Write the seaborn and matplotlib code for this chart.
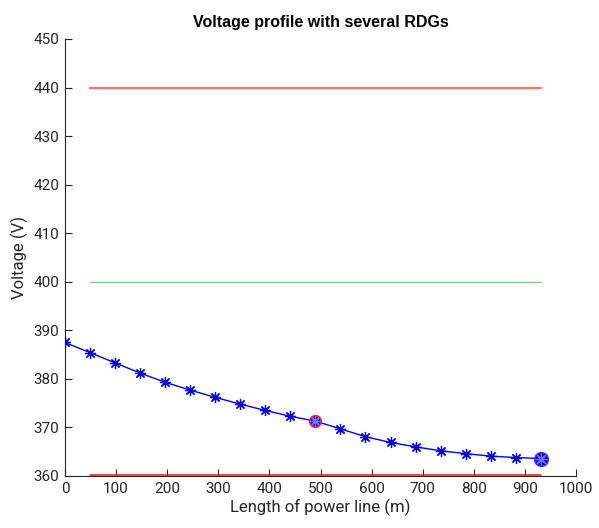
import numpy as np
import pandas as pd
import matplotlib
matplotlib.use("Agg")
import matplotlib.pyplot as plt
import seaborn as sns

# Data
distance_m = [0, 49, 98, 147, 196, 245, 294, 343, 392, 441, 490, 539, 588, 637, 686, 735, 784, 833, 882, 931]
voltage_v = [387.5, 385.4, 383.3, 381.2, 379.3, 377.7, 376.2, 374.8, 373.5, 372.3, 371.3, 369.7, 368.1, 366.9, 366.0, 365.2, 364.6, 364.1, 363.8, 363.6]
rdg_index = [10, 19]
upper_limit = 440
nominal = 400
lower_limit = 360
limit_start = 49
limit_end = 931
x_ticks = [0, 100, 200, 300, 400, 500, 600, 700, 800, 900, 1000]
y_ticks = [360, 370, 380, 390, 400, 410, 420, 430, 440, 450]

sns.set_theme(style="white")
plt.rcParams['font.family'] = ['Roboto', 'DejaVu Sans']

df = pd.DataFrame({"x": distance_m, "v": voltage_v})

fig = plt.figure(figsize=(5.99, 5.28), dpi=100)
ax = fig.add_axes([65/599, 1 - 476/528, (576-65)/599, (476-39)/528])

ax.plot([limit_start, limit_end], [upper_limit, upper_limit], color="#ff7070", lw=1.6, zorder=1)
ax.plot([limit_start, limit_end], [nominal, nominal], color="#55aa55", lw=1.0, alpha=0.7, zorder=1)
ax.plot([limit_start, limit_end], [lower_limit + 0.25, lower_limit + 0.25], color="#ee1111", lw=1.1,
        zorder=3, clip_on=False)

sns.lineplot(data=df, x="x", y="v", ax=ax, color="#0000ff", lw=1.0, marker=(8, 2, 0),
             markersize=8, markeredgewidth=0.9, markeredgecolor="#0000ff", zorder=3)

r1 = df.iloc[[rdg_index[0]]]
ax.scatter(r1["x"], r1["v"], s=70, facecolor="#0000ff", edgecolor="#ff2020", linewidths=1.2, zorder=4)
ax.scatter(r1["x"], r1["v"], s=50, marker=(8, 2, 0), color="#7070ff", linewidths=0.9, zorder=5)
r2 = df.iloc[[rdg_index[1]]]
ax.scatter(r2["x"], r2["v"], s=95, facecolor="#0000ff", edgecolor="#3030ff", linewidths=1.2, zorder=4)
ax.scatter(r2["x"], r2["v"], s=60, marker=(8, 2, 0), color="#7070ff", linewidths=0.9, zorder=5)

ax.set_xlim(0, 1000)
ax.set_ylim(360, 450)
ax.set_xticks(x_ticks)
ax.set_yticks(y_ticks)
ax.tick_params(axis="both", direction="in", length=5, width=0.8, colors="#262626",
               labelsize=11, pad=4, bottom=True, left=True)
for s in ["top", "right"]:
    ax.spines[s].set_visible(False)
for s in ["left", "bottom"]:
    ax.spines[s].set_color("#262626")
    ax.spines[s].set_linewidth(0.8)

ax.set_xlabel("Length of power line (m)", fontsize=12, color="#262626", labelpad=2)
ax.set_ylabel("Voltage (V)", fontsize=12, color="#262626", labelpad=4)
ax.set_title("Voltage profile with several RDGs", fontsize=11.5, fontweight="bold", color="black",
             family=["Liberation Sans", "DejaVu Sans"], pad=9)

fig.savefig("out.png", dpi=100)
